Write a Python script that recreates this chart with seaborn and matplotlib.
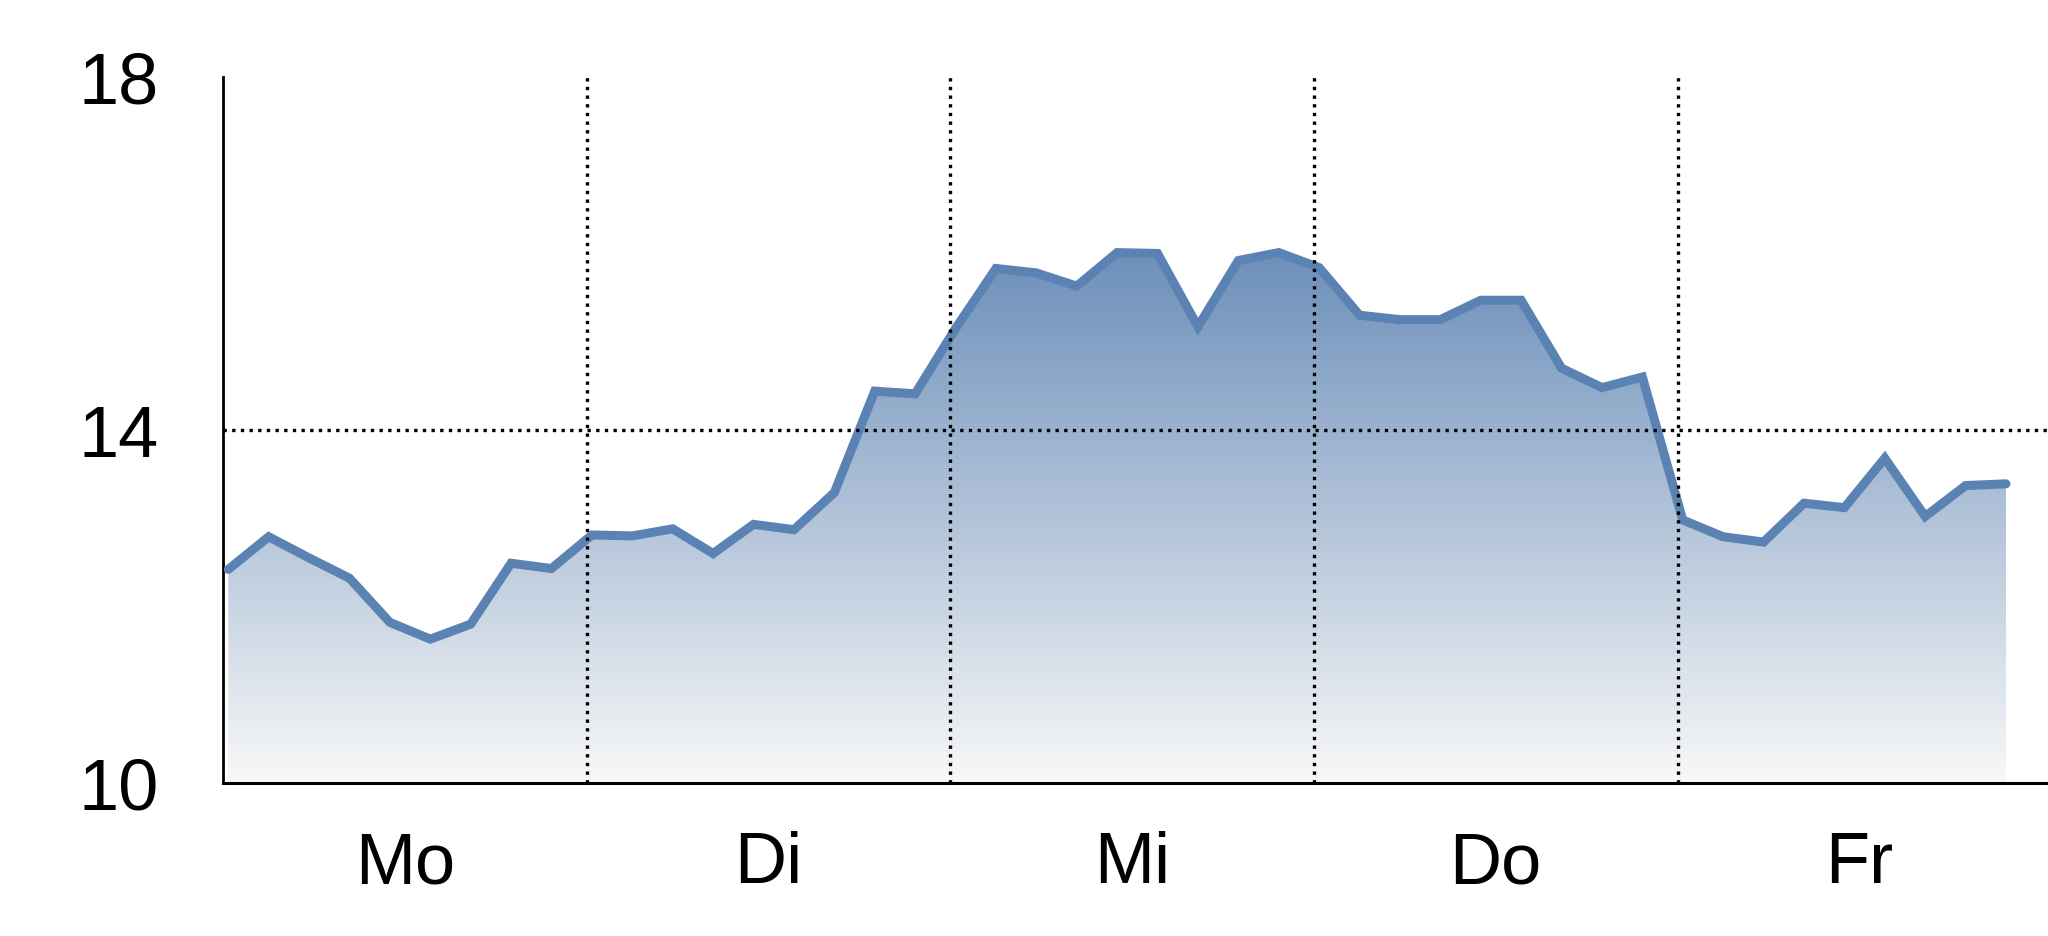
import numpy as np
import matplotlib
matplotlib.use("Agg")
import matplotlib.pyplot as plt
import seaborn as sns
from matplotlib.colors import LinearSegmentedColormap
from matplotlib.patches import PathPatch

days = ["Mo", "Di", "Mi", "Do", "Fr"]
y_ticks = [10, 14, 18]
values = [
    12.42, 12.79, 12.55, 12.32, 11.82, 11.63, 11.80, 12.49, 12.43,
    12.81, 12.80, 12.88, 12.60, 12.93, 12.87, 13.29, 14.44, 14.41,
    15.15, 15.83, 15.78, 15.63, 16.01, 16.00, 15.17, 15.92, 16.01,
    15.84, 15.30, 15.25, 15.25, 15.47, 15.47, 14.70, 14.48, 14.60,
    12.98, 12.79, 12.73, 13.17, 13.12, 13.68, 13.02, 13.37, 13.39,
]
points_per_day = 9

sns.set_style("white")
plt.rcParams["font.family"] = ["Liberation Sans Narrow", "Liberation Sans", "DejaVu Sans"]

x = np.arange(len(values)) + 0.13

fig = plt.figure(figsize=(20.48, 9.37), dpi=100)
ax = fig.add_axes([0.1089, 0.1633, 0.8911, 0.7535])

# gradient fill clipped to area under the line
poly = ax.fill_between(x, values, y_ticks[0], color="none", lw=0)
path = poly.get_paths()[0]
patch = PathPatch(path, transform=ax.transData, facecolor="none", edgecolor="none")
ax.add_patch(patch)
cmap = LinearSegmentedColormap.from_list("g", ["#f8f8f8", "#6c8fba"])
grad = np.linspace(0, 1, 256).reshape(-1, 1)
im = ax.imshow(grad, extent=[x[0], x[-1], y_ticks[0], max(values)], origin="lower",
               aspect="auto", cmap=cmap, zorder=1, interpolation="bicubic")
im.set_clip_path(patch)

sns.lineplot(x=x, y=values, ax=ax, color="#5a83b4", linewidth=6.5,
             solid_capstyle="round", solid_joinstyle="miter", zorder=3)

dot = dict(color="black", linewidth=2.4, linestyle=(0, (1, 1.6)), zorder=4)
ax.axhline(14, **dot)
for d in range(1, len(days)):
    ax.axvline(d * points_per_day, **dot)

ax.set_xlim(0, 45.17)
ax.set_ylim(y_ticks[0], y_ticks[-1])
ax.set_yticks(y_ticks)
ax.set_yticklabels([str(t) for t in y_ticks])
ax.set_xticks([d * points_per_day + points_per_day / 2 for d in range(len(days))])
ax.set_xticklabels(days)
ax.tick_params(axis="y", length=0, pad=46, labelsize=52, labelcolor="black")
ax.tick_params(axis="x", length=0, pad=34, labelsize=52, labelcolor="black")
ax.set_xlabel("")
ax.set_ylabel("")
for s in ["top", "right"]:
    ax.spines[s].set_visible(False)
ax.spines["left"].set_color("black")
ax.spines["left"].set_linewidth(2.0)
ax.spines["bottom"].set_color("black")
ax.spines["bottom"].set_linewidth(2.2)
ax.grid(False)

fig.savefig("out.png", dpi=100)
